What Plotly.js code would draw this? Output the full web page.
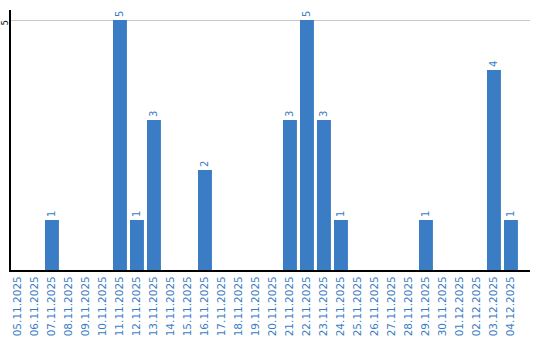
<!DOCTYPE html>
<html><head><meta charset="utf-8">
<script src="https://cdn.plot.ly/plotly-3.0.1.min.js"></script>
<style>body{margin:0}#c{width:540px;height:340px}</style>
</head><body><div id="c"></div>
<script>
const dates = ["05.11.2025","06.11.2025","07.11.2025","08.11.2025","09.11.2025","10.11.2025","11.11.2025","12.11.2025","13.11.2025","14.11.2025","15.11.2025","16.11.2025","17.11.2025","18.11.2025","19.11.2025","20.11.2025","21.11.2025","22.11.2025","23.11.2025","24.11.2025","25.11.2025","26.11.2025","27.11.2025","28.11.2025","29.11.2025","30.11.2025","01.12.2025","02.12.2025","03.12.2025","04.12.2025"];
const counts = [0,0,1,0,0,0,5,1,3,0,0,2,0,0,0,0,3,5,3,1,0,0,0,0,1,0,0,0,4,1];
const labels = counts.map(v => v > 0 ? String(v) : "");
const blue = "#3b7dc4";
Plotly.newPlot("c", [{
  type: "bar", x: dates, y: counts, text: labels,
  textposition: "outside", textangle: -90, cliponaxis: false,
  textfont: {family: "DejaVu Sans", size: 10, color: blue},
  marker: {color: blue}, hoverinfo: "none"
}], {
  width: 540, height: 340,
  margin: {l: 11, r: 10, t: 10, b: 70},
  bargap: 0.18,
  showlegend: false,
  plot_bgcolor: "#fff", paper_bgcolor: "#fff",
  xaxis: {type: "category", range: [-0.41, 30.12], tickangle: -90,
    tickfont: {family: "DejaVu Sans", size: 10.5, color: blue},
    showline: true, linecolor: "#000", linewidth: 2, ticks: "", showgrid: false, zeroline: false, fixedrange: true},
  yaxis: {range: [0, 5.2], tickvals: [5], ticktext: ["5"], tickangle: -90, ticklabelstandoff: -2, ticklabelshift: 4,
    tickfont: {family: "DejaVu Sans", size: 8, color: "#000"},
    showline: true, linecolor: "#000", linewidth: 2, ticks: "", showgrid: true, gridcolor: "#c8c8c8",
    zeroline: false, fixedrange: true}
}, {staticPlot: true, displayModeBar: false});
</script></body></html>
